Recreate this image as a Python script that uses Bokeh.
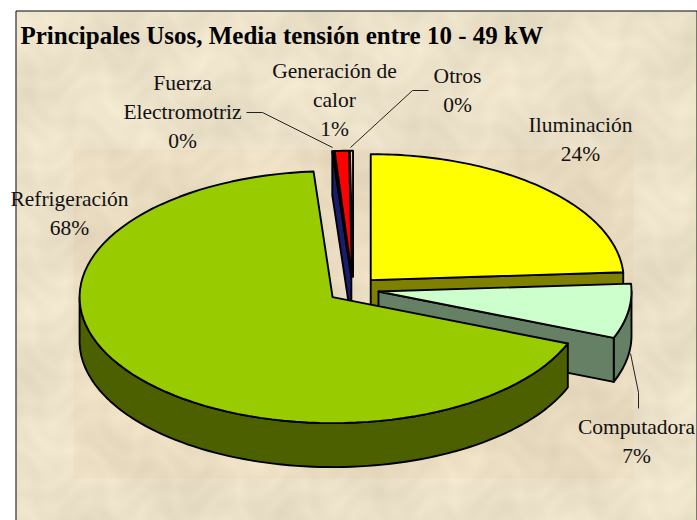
import numpy as np
from bokeh.plotting import figure
from bokeh.embed import file_html
from bokeh.resources import INLINE
from bokeh.core.properties import value

# --- data ---
categories = ["Iluminación", "Computadora", "Refrigeración",
              "Fuerza Electromotriz", "Generación de calor", "Otros"]
shares = [24.0, 7.0, 67.8, 0.1, 0.9, 0.2]
label_lines = [["Iluminación"], ["Computadora"], ["Refrigeración"],
               ["Fuerza", "Electromotriz"], ["Generación de", "calor"], ["Otros"]]
title_text = "Principales Usos, Media tensión entre 10 - 49 kW"

# --- style ---
top_colors = ["#FFFF00", "#CCFFCC", "#99CC00", "#333399", "#FF0000", "#FFCC99"]
wall_colors = ["#808000", "#668066", "#4D6000", "#1C1C6E", "#800000", "#806650"]

# --- layout (page pixels) ---
W, H = 697, 520
CX, CY, RX, RY, DEPTH, EXPL = 352.7, 289.0, 253.0, 126.0, 44.0, 25.6
label_pos = {0: (580, 124), 1: (636, 426), 2: (69, 198),
             3: (182, 82), 4: (334, 70), 5: (457, 75)}
LINE_H = 29.3
FONT = value("Liberation Serif")

p = figure(width=W, height=H, x_range=(0, W), y_range=(H, 0),
           output_backend="svg", toolbar_location=None, min_border=0,
           outline_line_color=None, background_fill_color="white",
           border_fill_color="white")
p.axis.visible = False
p.grid.visible = False

# parchment backdrop: soft mottling with a paler tile seam, as in the picture
x0, x1, y0, y1 = 16, 696, 11, H
xx, yy = np.meshgrid(np.arange(x0, x1), np.arange(y0, y1))
mott = (np.sin(xx / 31.0 + 1.3 * np.sin(yy / 47.0)) * np.sin(yy / 23.0 + 1.1 * np.sin(xx / 37.0))
        + 0.6 * np.sin(xx / 9.0 + np.sin(yy / 13.0) * 2) * np.sin(yy / 7.0 + np.sin(xx / 11.0) * 2))
inner = (xx >= 73) & (xx < 633) & (yy >= 149) & (yy < 478)
rgba = np.zeros(xx.shape, dtype=np.uint32)
view = rgba.view(np.uint8).reshape(xx.shape + (4,))
base = np.array([236, 225, 201], dtype=float)
tint = np.array([-1, -4, -7], dtype=float)
for c in range(3):
    view[..., c] = np.clip(base[c] + 6.0 * mott + tint[c] * inner, 0, 255).astype(np.uint8)
view[..., 3] = 255
p.image_rgba(image=[rgba], x=x0, y=y0, dw=x1 - x0, dh=y1 - y0)

# frame
p.line([15.5, 15.5, 696.5, 696.5], [H, 10.5, 10.5, H], line_color="black", line_width=1)

# --- pie geometry from the shares ---
total = sum(shares)
edges = np.concatenate([[0.0], np.cumsum(shares)]) / total * 360.0


def apex(i):
    mid = np.radians((edges[i] + edges[i + 1]) / 2)
    return CX + EXPL * np.sin(mid), CY - EXPL * 0.5 * np.cos(mid)


def arc(i, a, b, n=90):
    ax, ay = apex(i)
    t = np.radians(np.linspace(a, b, n))
    return ax + RX * np.sin(t), ay - RY * np.cos(t)


def poly(xs, ys, color):
    p.patch(list(xs), list(ys), fill_color=color, line_color="black",
            line_width=1.9, line_join="round")


def top(i):
    ax, ay = apex(i)
    xs, ys = arc(i, edges[i], edges[i + 1])
    poly(np.r_[ax, xs, ax], np.r_[ay, ys, ay], top_colors[i])


def radial_wall(i, ang):
    ax, ay = apex(i)
    xs, ys = arc(i, ang, ang, 1)
    poly([ax, xs[0], xs[0], ax], [ay, ys[0], ys[0] + DEPTH, ay + DEPTH], wall_colors[i])


def rim_wall(i, a, b):
    xs, ys = arc(i, a, b)
    poly(np.r_[xs, xs[::-1]], np.r_[ys, ys[::-1] + DEPTH], wall_colors[i])


# back to front: thin top slices, then lighting, computing, refrigeration
radial_wall(3, edges[3])
for i in (3, 4, 5):
    top(i)
radial_wall(0, edges[1])
top(0)
rim_wall(1, 90, edges[2])
radial_wall(1, edges[2])
top(1)
rim_wall(2, edges[2], 270)
top(2)

# leader lines
ln = dict(line_color="#222222", line_width=1)
p.line([246, 262, 332], [112, 112, 147], **ln)
p.line([428, 412, 350], [90, 90, 147], **ln)
p.line([638, 638, 630], [408, 392, 353], **ln)

# labels
for i, lines in enumerate(label_lines):
    lx, ly = label_pos[i]
    rows = lines + [f"{round(shares[i])}%"]
    p.text([lx] * len(rows), [ly + k * LINE_H for k in range(len(rows))], text=rows,
           text_font=FONT, text_font_size="21.5px", text_color="#111111",
           text_align="center", text_baseline="middle")

p.text([20], [35], text=[title_text], text_font=FONT, text_font_style="bold",
       text_font_size="25px", text_color="black", text_align="left", text_baseline="middle")

open("out.html", "w").write(file_html(p, INLINE))
